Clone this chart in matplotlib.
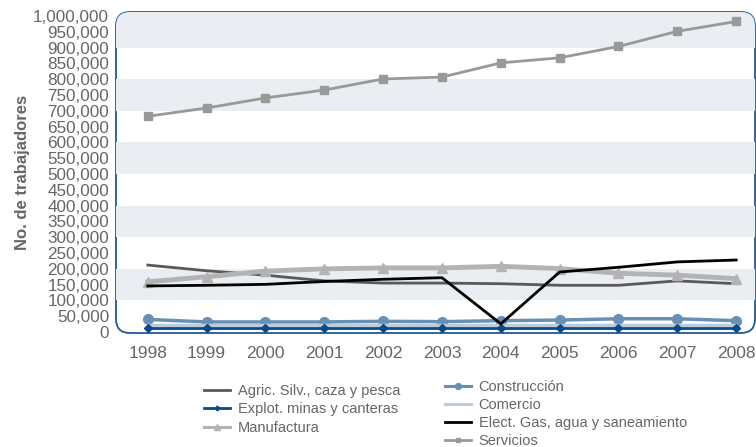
import matplotlib
matplotlib.use('Agg')
import matplotlib.pyplot as plt
from matplotlib.patches import FancyBboxPatch
from matplotlib.lines import Line2D
from matplotlib.ticker import FuncFormatter, MultipleLocator

plt.rcParams['font.family'] = ['Liberation Sans', 'DejaVu Sans']

years = [1998, 1999, 2000, 2001, 2002, 2003, 2004, 2005, 2006, 2007, 2008]

agric = [212000, 194000, 180000, 162000, 155000, 155000, 153000, 148000, 148000, 162000, 153000]
explot = [14000, 14000, 14000, 14000, 14000, 14000, 14000, 14000, 14000, 14000, 14000]
manufactura = [159000, 175000, 193000, 200000, 203000, 203000, 208000, 201000, 186000, 180000, 169000]
construccion = [40000, 32000, 32000, 32000, 34000, 33000, 36000, 38000, 42000, 42000, 36000]
comercio = [21000, 21000, 21000, 21000, 21000, 21000, 21000, 21000, 21000, 21000, 21000]
elect = [146000, 148000, 151000, 160000, 167000, 172000, 26000, 190000, 205000, 222000, 228000]
servicios = [683000, 709000, 741000, 766000, 801000, 807000, 852000, 868000, 904000, 952000, 983000]

grey_txt = '#666666'
frame_col = '#1f5a96'
band_col = '#eaeef2'

# name, values, colour, line width, marker, marker size
series = [
    ('Servicios', servicios, '#999999', 2, 's', 6),
    ('Agric. Silv., caza y pesca', agric, '#595959', 2, None, 0),
    ('Manufactura', manufactura, '#b3b3b3', 3.5, '^', 7),
    ('Elect. Gas, agua y saneamiento', elect, '#000000', 2, None, 0),
    ('Construcción', construccion, '#6890b5', 2.5, 'o', 7),
    ('Comercio', comercio, '#b9cde0', 2.5, None, 0),
    ('Explot. minas y canteras', explot, '#0b4a84', 2, 'D', 4),
]

fig = plt.figure(figsize=(7.56, 4.47), dpi=100)
ax = fig.add_axes([116 / 756, 1 - 333 / 447, 639 / 756, 321 / 447])

ax.set_xlim(1997.46, 2008.32)
ax.set_ylim(-3000, 1013000)

# rounded frame of the plot area
w_px, h_px = 639, 321
frame = FancyBboxPatch((0, 0), 1, 1, boxstyle='round,pad=0,rounding_size=0.022',
                       mutation_aspect=w_px / h_px, transform=ax.transAxes,
                       facecolor='white', edgecolor=frame_col, linewidth=1.3,
                       zorder=0.5, clip_on=False)
ax.add_patch(frame)

# alternating bands every 100,000
for lo in [100000, 300000, 500000, 700000, 900000]:
    hi = lo + 100000 if lo < 900000 else 1013000
    b = ax.axhspan(lo, hi, color=band_col, zorder=0.6, lw=0)
    b.set_clip_path(frame)

proxies = {}
for name, vals, col, lw, mk, ms in series:
    z = 4 if name.startswith('Elect') else 3
    ax.plot(years, vals, color=col, lw=lw, marker=mk, ms=ms, zorder=z)
    proxies[name] = Line2D([], [], color=col, lw=min(lw, 2.2), marker=mk, ms=ms * 0.6)

for s in ax.spines.values():
    s.set_visible(False)

ax.set_xticks(years)
ax.yaxis.set_major_locator(MultipleLocator(50000))
ax.yaxis.set_major_formatter(FuncFormatter(lambda v, p: f'{int(v):,}'))
ax.tick_params(axis='both', length=0, colors=grey_txt, labelsize=12.3)
ax.tick_params(axis='y', pad=5)
ax.tick_params(axis='x', pad=9, labelsize=12.5)
ax.set_ylabel('No. de trabajadores', color=grey_txt, fontsize=12, fontweight='bold', labelpad=2)

col1 = ['Agric. Silv., caza y pesca', 'Explot. minas y canteras', 'Manufactura']
col2 = ['Construcción', 'Comercio', 'Elect. Gas, agua y saneamiento', 'Servicios']

leg_kw = dict(frameon=False, fontsize=10.5, handlelength=1.75, handletextpad=0.55,
              labelspacing=0.3, borderpad=0, borderaxespad=0, labelcolor=grey_txt)
fig.legend([proxies[k] for k in col1], col1, loc='upper left',
           bbox_to_anchor=(204 / 756, 1 - 384 / 447), **leg_kw)
fig.legend([proxies[k] for k in col2], col2, loc='upper left',
           bbox_to_anchor=(445 / 756, 1 - 380 / 447), **dict(leg_kw, labelspacing=0.27))

fig.savefig('out.png', dpi=100)
